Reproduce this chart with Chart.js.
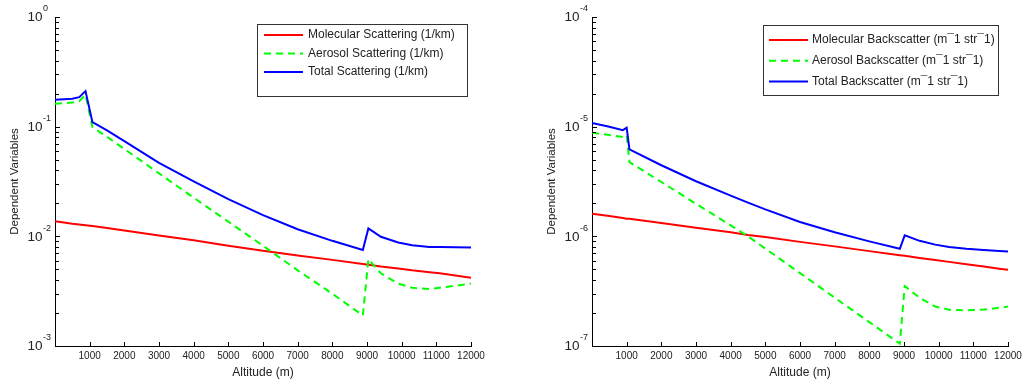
<!DOCTYPE html>
<html>
<head>
<meta charset="utf-8">
<script src="https://cdn.jsdelivr.net/npm/chart.js@4.4.0/dist/chart.umd.min.js"></script>
<style>
  html, body { margin: 0; padding: 0; background: #fff; width: 1029px; height: 384px; overflow: hidden; }
  .box { position: absolute; top: 0; width: 492px; height: 384px; }
</style>
</head>
<body>
<div class="box" style="left:0"><canvas id="scatChart"></canvas></div>
<div class="box" style="left:537px"><canvas id="backChart"></canvas></div>
<script>
// altitude ticks (m)
const xTicks = [1000, 2000, 3000, 4000, 5000, 6000, 7000, 8000, 9000, 10000, 11000, 12000];

// left panel: scattering (1/km)
const altLeft = [0, 500, 700, 880, 1080, 1500, 2000, 3000, 4000, 5000, 6000, 7000, 8000, 8880, 9040, 9400, 9900, 10300, 10800, 11100, 12000];
const molLeft = [0.0137, 0.0130, 0.0128, 0.0126, 0.0124, 0.0119, 0.0113, 0.0102, 0.0092, 0.0082, 0.0074, 0.0067, 0.0061, 0.0056, 0.0055, 0.0053, 0.0051, 0.0049, 0.0047, 0.0046, 0.0042];
const aerLeft = [0.162, 0.166, 0.171, 0.195, 0.099, 0.0808, 0.0626, 0.0375, 0.0225, 0.0136, 0.0082, 0.0049, 0.0030, 0.0019, 0.0062, 0.0046, 0.0037, 0.0034, 0.0033, 0.0034, 0.0037];
const totLeft = [0.176, 0.180, 0.186, 0.211, 0.110, 0.0927, 0.0739, 0.0467, 0.0317, 0.0218, 0.0156, 0.0116, 0.0091, 0.0075, 0.0118, 0.0099, 0.0088, 0.0083, 0.0080, 0.0080, 0.0079];
const yTicksLeft = [1e-3, 1e-2, 1e-1, 1];
const yExpLeft = ['-3', '-2', '-1', '0'];
const labelsLeft = ['Molecular Scattering (1/km)', 'Aerosol Scattering (1/km)', 'Total Scattering (1/km)'];

// right panel: backscatter
const altRight = [0, 500, 890, 1000, 1080, 2000, 3000, 4000, 4500, 5000, 6000, 7000, 8000, 8880, 9020, 9450, 9900, 10300, 10800, 11300, 11750, 12000];
const molRight = [1.61e-6, 1.53e-6, 1.47e-6, 1.45e-6, 1.445e-6, 1.32e-6, 1.20e-6, 1.09e-6, 1.03e-6, 9.84e-7, 8.9e-7, 8.1e-7, 7.33e-7, 6.73e-7, 6.64e-7, 6.36e-7, 6.08e-7, 5.85e-7, 5.57e-7, 5.3e-7, 5.07e-7, 4.95e-7];
const aerRight = [8.8e-6, 8.4e-6, 8.04e-6, 8.35e-6, 4.75e-6, 3.13e-6, 1.98e-6, 1.26e-6, 1.0e-6, 7.73e-7, 4.62e-7, 2.76e-7, 1.65e-7, 1.05e-7, 3.52e-7, 2.75e-7, 2.29e-7, 2.14e-7, 2.11e-7, 2.15e-7, 2.23e-7, 2.29e-7];
const totRight = [1.08e-5, 1.0e-5, 9.3e-6, 9.8e-6, 6.2e-6, 4.45e-6, 3.18e-6, 2.35e-6, 2.03e-6, 1.76e-6, 1.35e-6, 1.09e-6, 9.0e-7, 7.7e-7, 1.02e-6, 9.1e-7, 8.4e-7, 8.0e-7, 7.7e-7, 7.5e-7, 7.35e-7, 7.28e-7];
const yTicksRight = [1e-7, 1e-6, 1e-5, 1e-4];
const yExpRight = ['-7', '-6', '-5', '-4'];
const labelsRight = ['Molecular Backscatter (m\u00AF1 str\u00AF1)', 'Aerosol Backscatter (m\u00AF1 str\u00AF1)', 'Total Backscatter (m\u00AF1 str\u00AF1)'];

const FONT = '"Liberation Sans", Arial, sans-serif';

const pts = (xs, ys) => xs.map((a, i) => ({ x: a, y: ys[i] }));

// MATLAB style: inward ticks, 10^n labels, boxed legend
const matlabAxes = {
  id: 'matlabAxes',
  afterDraw(chart, args, opts) {
    const ctx = chart.ctx;
    const a = chart.chartArea;
    const x = chart.scales.x, y = chart.scales.y;
    ctx.save();
    ctx.strokeStyle = '#000';
    ctx.lineWidth = 1;
    ctx.beginPath();
    x.ticks.forEach(t => {
      const px = Math.round(x.getPixelForValue(t.value)) + 0.5;
      ctx.moveTo(px, a.bottom);
      ctx.lineTo(px, a.bottom - 4);
    });
    opts.yTicks.forEach(v => {
      for (let k = 1; k < 10; k++) {
        const val = v * k;
        if (val > y.max * 1.0001) break;
        const py = Math.round(y.getPixelForValue(val)) + 0.5;
        ctx.moveTo(a.left, py);
        ctx.lineTo(a.left + (k === 1 ? 5 : 4), py);
      }
    });
    ctx.stroke();

    // y labels 10^n
    ctx.fillStyle = '#222';
    ctx.textBaseline = 'middle';
    opts.yTicks.forEach((v, i) => {
      const py = y.getPixelForValue(v);
      ctx.font = '13.5px ' + FONT;
      ctx.textAlign = 'right';
      ctx.fillText('10', a.left - 12.5, py + 0.5);
      ctx.font = '9px ' + FONT;
      ctx.textAlign = 'left';
      ctx.fillText(opts.yExp[i], a.left - 12, py - 8);
    });

    // legend
    const L = opts.legend;
    ctx.fillStyle = '#fff';
    ctx.fillRect(L.x, L.y, L.w, L.h);
    ctx.strokeStyle = '#333';
    ctx.strokeRect(L.x + 0.5, L.y + 0.5, L.w, L.h);
    ctx.font = '12px ' + FONT;
    ctx.textAlign = 'left';
    ctx.textBaseline = 'middle';
    chart.data.datasets.forEach((ds, i) => {
      const ry = L.y + L.row0 + i * L.rowGap;
      ctx.strokeStyle = ds.borderColor;
      ctx.lineWidth = 2;
      ctx.setLineDash(ds.borderDash || []);
      ctx.beginPath();
      ctx.moveTo(L.x + L.line0, ry);
      ctx.lineTo(L.x + L.line1, ry);
      ctx.stroke();
      ctx.setLineDash([]);
      ctx.fillStyle = '#222';
      ctx.fillText(ds.label, L.x + L.text, ry);
    });
    ctx.restore();
  }
};

const makeChart = (id, alts, mol, aer, tot, labels, yMin, yMax, yTicks, yExp, legend) => {
  const ctx = document.getElementById(id).getContext('2d');
  return new Chart(ctx, {
    type: 'line',
    data: {
      datasets: [
        { label: labels[0], data: pts(alts, mol), borderColor: '#ff0000', borderWidth: 2, pointRadius: 0, order: 3 },
        { label: labels[1], data: pts(alts, aer), borderColor: '#00ff00', borderWidth: 2, borderDash: [7, 5], pointRadius: 0, order: 2 },
        { label: labels[2], data: pts(alts, tot), borderColor: '#0000ff', borderWidth: 2, pointRadius: 0, order: 1 },
      ],
    },
    options: {
      responsive: true,
      maintainAspectRatio: false,
      animation: false,
      layout: { padding: { top: 17, right: 21, left: 0, bottom: 0 } },
      plugins: {
        legend: { display: false },
        tooltip: { enabled: false },
        matlabAxes: { yTicks: yTicks, yExp: yExp, legend: legend },
      },
      scales: {
        x: {
          type: 'linear',
          min: 0,
          max: 12000,
          afterBuildTicks: s => { s.ticks = xTicks.map(v => ({ value: v })); },
          afterFit: s => { s.height = 38; },
          grid: { display: false, drawTicks: false, tickLength: 0 },
          border: { display: true, color: '#000', width: 1 },
          ticks: { font: { family: FONT, size: 10 }, color: '#222', padding: 4, maxRotation: 0, autoSkip: false, callback: v => String(v) },
          title: { display: true, text: 'Altitude (m)', font: { family: FONT, size: 12 }, color: '#222', padding: { top: 0, bottom: 4 } },
        },
        y: {
          type: 'logarithmic',
          min: yMin,
          max: yMax,
          afterFit: s => { s.width = 55; },
          grid: { display: false, drawTicks: false, tickLength: 0 },
          border: { display: true, color: '#000', width: 1 },
          ticks: { display: false },
          title: { display: true, text: 'Dependent Variables', font: { family: FONT, size: 11.5 }, color: '#222', padding: { top: 8, bottom: 0 } },
        },
      },
    },
    plugins: [matlabAxes],
  });
};

makeChart('scatChart', altLeft, molLeft, aerLeft, totLeft, labelsLeft, 1e-3, 1, yTicksLeft, yExpLeft,
  { x: 257, y: 24, w: 210, h: 72, row0: 11, rowGap: 18.5, line0: 7, line1: 46, text: 51 });
makeChart('backChart', altRight, molRight, aerRight, totRight, labelsRight, 1e-7, 1e-4, yTicksRight, yExpRight,
  { x: 226, y: 25, w: 235, h: 70, row0: 15, rowGap: 20.7, line0: 6, line1: 45, text: 49 });
</script>
</body>
</html>
